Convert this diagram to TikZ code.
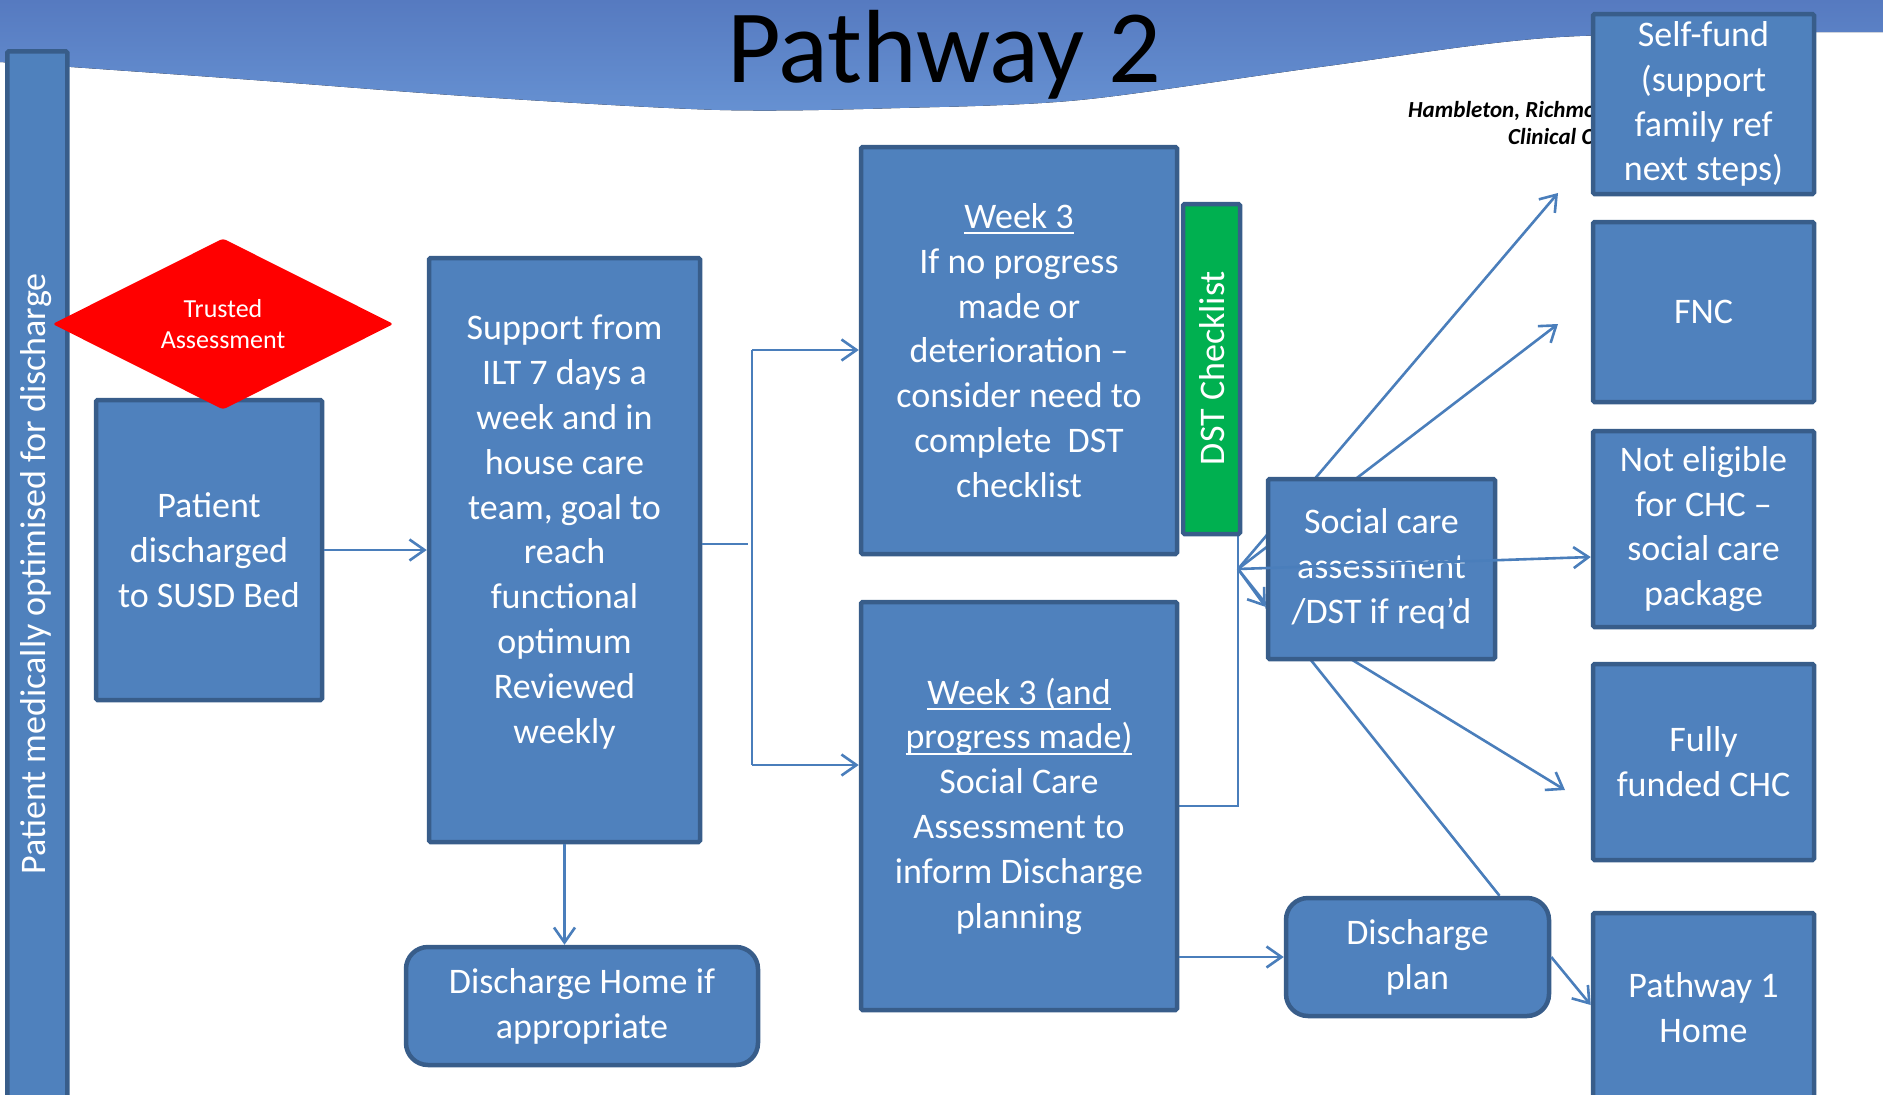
\documentclass[tikz,border=0pt]{standalone}
\usepackage{fontspec}
\setmainfont{Carlito}
\usetikzlibrary{arrows.meta,shapes.geometric}
\definecolor{boxfill}{RGB}{79,129,189}
\definecolor{boxline}{RGB}{56,93,138}
\definecolor{connblue}{RGB}{74,126,187}
\definecolor{dstgreen}{RGB}{0,176,80}
\definecolor{bandtop}{RGB}{86,122,192}
\definecolor{bandbot}{RGB}{102,145,210}
\pgfdeclarelayer{background}
\pgfsetlayers{background,main}

% underline sitting just below the baseline
\newlength\ulwd
\newcommand\uln[1]{\settowidth\ulwd{#1}\rlap{\rule[-6pt]{\ulwd}{2pt}}#1}

\begin{document}
\begin{tikzpicture}[x=1pt,y=-1pt,
  box/.style={draw=boxline, fill=boxfill, line width=4.5pt, rounded corners=1.5pt,
    inner sep=0pt, text=white, align=center, font=\fontsize{36}{44.8}\selectfont},
  rbox/.style={box, rounded corners=22pt},
  btext/.style={text=white, align=center, inner sep=0pt, font=\fontsize{36}{44.8}\selectfont},
  ccg/.style={anchor=base west, inner sep=0pt, font=\fontsize{23}{28}\selectfont\bfseries\itshape},
  conn/.style={draw=connblue, line width=2.6pt},
  arr/.style={conn, -{Straight Barb[length=15pt,width=21pt]}},
]
\clip (0,0) rectangle (1883,1095);

% header band
\begin{pgfonlayer}{background}
\fill[top color=bandtop, bottom color=bandbot] (0,0) -- plot[smooth] coordinates
  {(0,62) (240,79) (480,97) (720,110) (900,108) (1080,100) (1320,67) (1560,37) (1883,32)}
  -- (1883,0) -- cycle;
\end{pgfonlayer}

\node[anchor=base, inner sep=0pt, font=\fontsize{104}{110}\selectfont] (title) at (944,82) {Pathway 2};

% organisation name, running in under the first outcome box
\begin{scope}
\clip (1380,90) rectangle (1590,160);
\node[ccg] (ccgA) at (1408,117) {Hambleton, Richmondshire};
\node[ccg] (ccgB) at (1508,144) {Clinical Commissioning};
\end{scope}

% left column
\node[box, minimum width=60, minimum height=1080, anchor=north west] (optbar) at (5,49) {};
\node[btext, rotate=90] (optlbl) at (36,574) {Patient medically optimised for discharge};

\node[box, minimum width=226, minimum height=300] (patient) at (209,550) {Patient\\discharged\\to SUSD Bed};
\node[diamond, fill=red, inner sep=0pt, shape aspect=2, minimum width=341, minimum height=171,
  rounded corners=3pt, text=white, align=center, font=\fontsize{26}{31}\selectfont] (trusted) at (223,324) {Trusted\\Assessment};

\node[box, minimum width=271, minimum height=584] (support) at (564.5,550) {};
\node[btext] (supportlbl) at (564.5,532) {Support from\\ILT 7 days a\\week and in\\house care\\team, goal to\\reach\\functional\\optimum\\Reviewed\\weekly};

\node[rbox, minimum width=352, minimum height=118] (dhome) at (582,1006) {Discharge Home if\\appropriate};

% week 3 boxes
\node[box, minimum width=316, minimum height=407] (wk3) at (1019,350.5) {\uln{Week 3}\\If no progress\\made or\\deterioration –\\consider need to\\complete\ \ DST\\checklist};
\node[box, fill=dstgreen, minimum width=57, minimum height=330] (dst) at (1211.5,369) {};
\node[btext, rotate=90] (dstlbl) at (1212,368) {DST Checklist};

\node[box, minimum width=316, minimum height=408] (wk3b) at (1019,806) {\uln{Week 3 (and}\\\uln{progress made)}\\Social Care\\Assessment to\\inform Discharge\\planning};

\node[box, minimum width=227, minimum height=180] (social) at (1381.5,569) {Social care\\assessment\\/DST if req’d};
\node[rbox, minimum width=263, minimum height=118] (dplan) at (1417.5,957) {Discharge\\plan};

% outcome column
\node[box, minimum width=221, minimum height=180] (selffund) at (1703.5,104) {Self-fund\\(support\\family ref\\next steps)};
\node[box, minimum width=221, minimum height=180] (fnc) at (1703.5,312) {FNC};
\node[box, minimum width=221, minimum height=196] (notelig) at (1703.5,529) {Not eligible\\for CHC –\\social care\\package};
\node[box, minimum width=221, minimum height=196] (fully) at (1703.5,762) {Fully\\funded CHC};
\node[box, minimum width=221, minimum height=190] (path1) at (1703.5,1008) {Pathway 1\\Home};

% connectors
\coordinate (fan) at (1238,569);
\coordinate (sfTip) at (1558,193);
\coordinate (fncTip) at (1558,324);
\coordinate (fullyTip) at (1565,790);
\coordinate (brkT) at (752,350);
\coordinate (brkB) at (752,765);

\begin{pgfonlayer}{background}
\draw[conn] (wk3b.east) -| (fan |- dst.south);
\draw[arr] (fan) -- (sfTip);
\draw[arr] (fan) -- (fncTip);
\draw[conn] (fan) -- ([xshift=82pt]dplan.north);
\draw[arr] (fan) -- ([yshift=-38pt]social.west);
\draw[arr] ([yshift=-38pt]social.west) -- (fullyTip);
\end{pgfonlayer}

\draw[arr] (fan) -- ([yshift=-28pt]notelig.west);

\draw[arr] (patient.east) -- (support.west);
\draw[conn] ([yshift=6pt]support.east) -- ++(46,0);
\draw[conn] (brkT) -- (brkB);
\draw[arr] (brkT) -- (brkT -| wk3.west);
\draw[arr] (brkB) -- (brkB -| wk3b.west);
\draw[arr] (support.south) -- (support.south |- dhome.north);
\draw[arr] (wk3b.east |- dplan.west) -- (dplan.west);
\draw[arr] (dplan.east) -- ([yshift=3pt]path1.west);
\end{tikzpicture}
\end{document}
